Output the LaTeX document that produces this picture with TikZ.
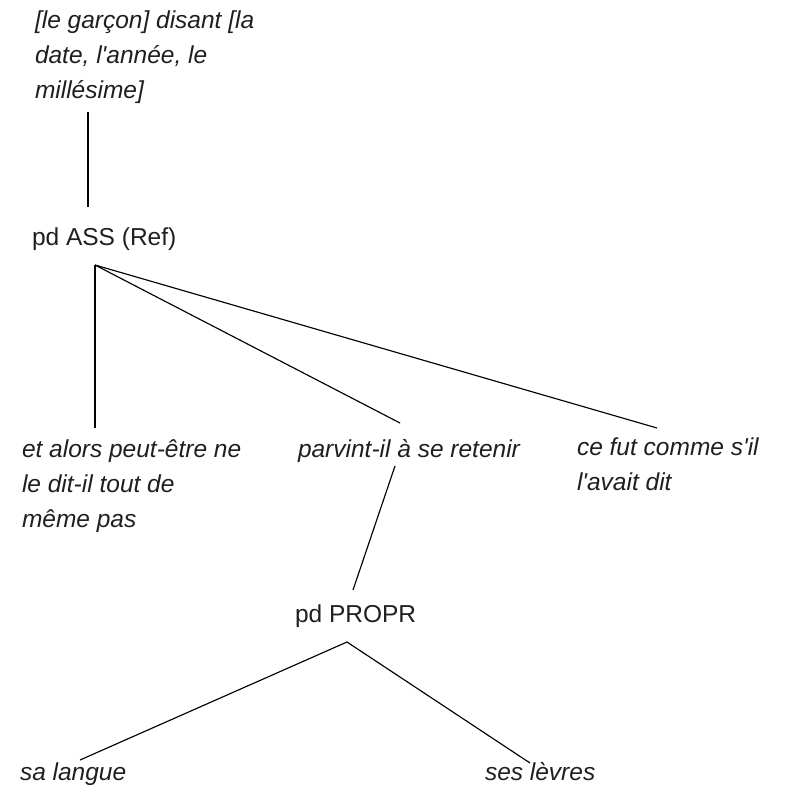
\documentclass[tikz,border=0pt]{standalone}
\usepackage{fontspec}
\setmainfont{Liberation Sans}
\begin{document}
\begin{tikzpicture}[x=1pt,y=-1pt,
  every node/.style={inner sep=0pt,outer sep=0pt,anchor=base west,align=left,
    text=black!88,font=\fontsize{24.5}{35}\selectfont},
  phrase/.style={font=\fontsize{24.5}{35}\selectfont\itshape},
  label/.style={},
  branch/.style={draw=black,line width=1.15pt}]
\useasboundingbox (0,0) rectangle (785,790);

% labels of the tree (base = baseline of the last line)
\node[phrase] (top)   at (35,98)   {[le garçon] disant [la\\date, l\textquotesingle année, le\\millésime]};
\node[label]  (ass)   at (32,245)  {pd ASS (Ref)};
\node[phrase] (left)  at (22,527)  {et alors peut-être ne\\le dit-il tout de\\même pas};
\node[phrase] (mid)   at (298,457) {parvint-il à se retenir};
\node[phrase] (right) at (577,490) {ce fut comme s\textquotesingle il\\l\textquotesingle avait dit};
\node[label]  (propr) at (295,622) {pd PROPR};
\node[phrase] (sa)    at (20,780)  {sa langue};
\node[phrase] (ses)   at (485,780) {ses lèvres};

% branches
\draw[branch] ([shift={(53,14)}]top.base west) -- ([shift={(56,-38)}]ass.base west);
\draw[branch] ([shift={(63,20)}]ass.base west) -- ([shift={(73,-99)}]left.base west);
\draw[branch] ([shift={(63,20)}]ass.base west) -- ([shift={(102,-34)}]mid.base west);
\draw[branch] ([shift={(63,20)}]ass.base west) -- ([shift={(80,-62)}]right.base west);
\draw[branch] ([shift={(97,9)}]mid.base west) -- ([shift={(58,-32)}]propr.base west);
\draw[branch] ([shift={(52,20)}]propr.base west) -- ([shift={(60,-20)}]sa.base west);
\draw[branch] ([shift={(52,20)}]propr.base west) -- ([shift={(45,-17)}]ses.base west);
\end{tikzpicture}
\end{document}
